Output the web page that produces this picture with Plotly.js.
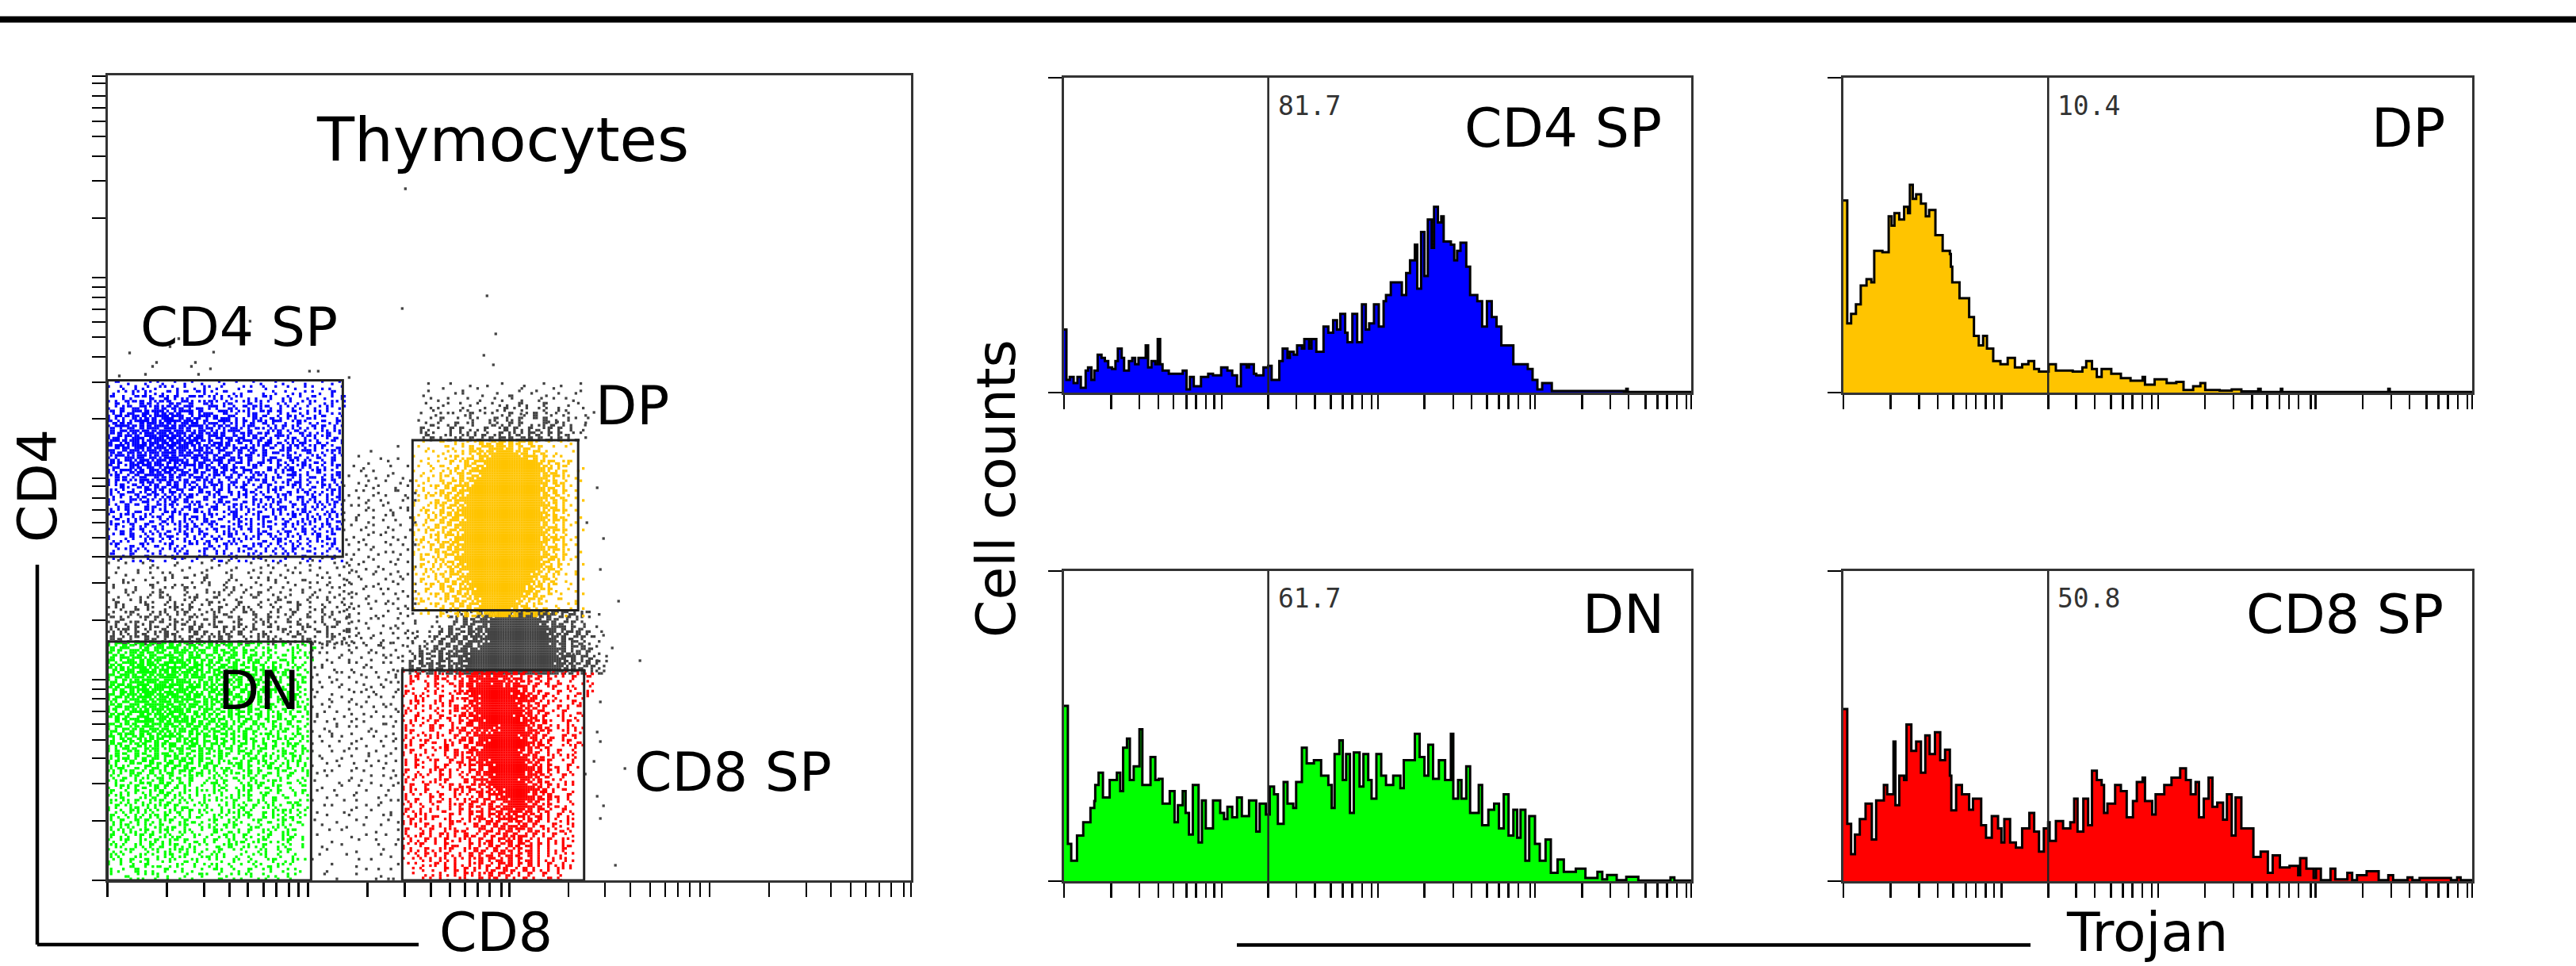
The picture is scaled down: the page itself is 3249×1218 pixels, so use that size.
<!DOCTYPE html>
<html><head><meta charset="utf-8">
<script src="https://cdn.plot.ly/plotly-3.0.1.min.js"></script>
<style>html,body{margin:0;padding:0;background:#fff}</style></head>
<body><div id="chart" style="width:3249px;height:1218px"></div>
<script>
// Event bitmaps: each hex digit is one 2x2 block of plot dots
const cd4Grid=[
"0210400820140208010400280010020400180200400208010",
"10240a0418220142080a20410082010240102040120804020",
"0412051a28043052103a0142180421080240180412040a100",
"21058213a4295a1463212a0524118042150824018210420a1",
"1a4253a5e261b4c3952a65189412a4152082418205104a201",
"42853c6b2a5d3e96b1c4a35286429a15340528142041a2041",
"25a1c73e5b7d96e3b5a9c42b5162a843a1258214a0152804",
"5a361f9b6e3fd7b5c9e37a5ce3482a561c24a15284521082",
"3c95e2b7dfa6fb3e7d5a9c6b345a1e295a3142a5148214a1",
"96b3d7a5fe7bdfa7e3b5d6a93c56a3c8245a1a24825a1052",
"a5e36f9bd7efb6fd3ea7c95e2b3ca584e2a5243c1482a415",
"5c7a3ed6bfe7dfb6e9f5a3d7c69e2a5c14b3a8426152a1c0",
"e39b6f5dbe7f6dfbe7d3a9c5e1b635a1e5849a2c51a4821a",
"3a7d5bf7e9fdb7ef5ba6d3e97a4c5e2a3c1a85b2415a1284",
"b5c3e7d9bf6edfa7e6b9d5a3c6a52e1a58c3a142b5182a15",
"6a39d5f7ae9bdf6b3e7d5a9e3ca4b52a1c42a5c182a41852",
"a5d2b6e7d9f3eb7d5a9e36b5a3c5a18e25a14b2851c24a10",
"3c52a7d3f6b9de6a3ba57c2e5a4c2a5184a16c2a158242a1",
"59a3b6e5a7dbe93d6a5c3a5e1b4a35c8215a2b4182a51284",
"2a5c169e3b7da5e3a9c56a32c5a14e2158a42b152c481a25",
"5a1362a7d5b3e96a5c3a95a42c58a13a5248a1c5248a1258",
"12a543c96a5c3e5a2c9a4b15a24e1285a14c2a15284a1524",
"a241c58a3e25ac3521a5c2e1a4825c14a25184a2c1482a15",
"24a1825c3a16c9a2e5186a2c41a25812c4a2518c2a41a285",
"5184a32c516a2e1a54c218a5c2184a152a85142a8154a2c1",
"124a52185c3a2518e2a41c528a1542a8152c4a1258a24152",
"a41258c2152a4e812a54a2182c51a2841a25182a54128a42",
"14a2158a24c1852a1c4a25182a5412a8c2412a51a82415a2",
"82145a21842c158a241a5c2182a4152a8412c18a2451a284",
"2a14258a1c2412a85a41251c82a4152a84125a28114a2582",
"1284a1258241c2a815a41258a24125a84182c41a52418a21",
"4121a58241a2c412582a1482a51248a12541a82412a5821",
"1482410a2581241a8241c2518a24112842a5148124a8215",
"2a1084251842a1482112a48251184a2581241a8124082a1",
"0412a81240812a81408a124810a8214058124a1284108124",
"2104a10841280412108a40128140a2810412a01840128040",
"0120048014080201041002840180420108041002810402080",
];
const dpGrid=[
"00100210a0412a5c3e7a5e3a5102001040",
"01040021401a5c3bdf7e5a9c3a10200100",
"00201041205a3e9bdfffd7e5a3c1040020",
"10040182a14c5a7dffffffe7b5a120100",
"0204010a12a5e3bffffffffffd7a3c2a100",
"0102421485a3c7dfffffffffffe95a21008",
"1042081a2c5e3bffffffffffffb6c5a1020",
"02041a214a5c7dffffffffffffe7a3a2040",
"2041025c3a96bfffffffffffffd7a5c1001",
"0142a1a5e37dffffffffffffffe9c3a0100",
"20148a5c3e7bffffffffffffffb6a5a1010",
"01a212a5e9dfffffffffffffffe7c3c2040",
"4108a5c3a7bfffffffffffffffd9a5a1002",
"1041a25e36dfffffffffffffffb7c5a0100",
"02a14a5c97ffffffffffffffffe6a3a1010",
"4105a2c3e7bfffffffffffffffd7a5c2004",
"10a21a5e39dfffffffffffffffb6a3a1040",
"2014a5c3a7ffffffffffffffffe9c5a0100",
"41a2145e36bfffffffffffffffd7a3a1002",
"104a25a39dffffffffffffffffb6c5c1040",
"2a1425c6e7bfffffffffffffffe7a3a0100",
"014a1a5e97ffffffffffffffffd9c5a1010",
"4102a5c3e7bfffffffffffffffb6a3a2004",
"1a2145a39dffffffffffffffffe7c5a1040",
"0214a25c6bffffffffffffffff9e3a20100",
"4a105a2c97dfffffffffffffff7c5a12002",
"10a2418a5e3bfffffffffffffb6a3c10040",
"2014a25a39dfffffffffffffe7c5a201010",
"0a1024a5c3e7ffffffffffffd9a3c104002",
"102a1a5c3a9bfffffffffffb6e5a2100100",
"40a1025a5e37dffffffffffe7c3a1402040",
"0102a1a5c3e9bfffffffffd7a5c21010002",
"2a4102a1a5c36dfffffffb6a3a140210040",
"0102a1425a5e39fffffff7c5a2100402010",
"10240a1a25c3e7bfffffe9a3c5a10200102",
"02010a1425a5c36bfff7e5a3a5120104008",
];
const dnGrid=[
"5a3c96b5e3c7a5e29c36a5c3e5a1c3a1204a1082410",
"a5e39c6e5a7d3b5e6a9c3a5c2e1a4c12a4108a24021",
"3c96a7e5bd39e6b7a5d3c69a3e5a1c5a24184a20510",
"e5a3d7b6e9f3a7d5eb3c96a5e3c2a5c1a12c4a1128",
"96c3b7e5fd9e7b3f6ad5e93c6a5e2a3c1a14a2481",
"3ea5d7bf6e9d7fb3e7d5a9e36b5c3a5e2a51c2a14",
"c59e7d3fb7e6df9b7e5d3ae96c5a3c5a1e2a51842",
"5a3e9b7dfe6bf7de93b7a5d3c6e5a2c5a3152c4a1",
"a7c5e3fd7bef9df7b6ea5d9e36a5c3e2a5a184a21",
"3e96b7df6ef7b9ed7f3a6d5e9a3c5a1e2c5a42a14",
"c5a7ed9bf7e6fd7be9d5a3e6b5c3a5a2c518a2c14",
"5e3a9d7fb6ef9b7dfe3a6d5c9a35e2a5c1a4a2518",
"a6c39e7bdfe7f6bd9e7a5d36c5a3e5a14c2a15a28",
"5e3a7d9b6fe7dbf6e3a9d5c3a6e2a5c3a5184a215",
"96c5e3b7d9f6e7bd3a5e96c3a5e3a1c5a2a41521a",
"3a5e9c7bd6ef9b7e5d3a6c9e25a3c5a1e2a54a128",
"c69a5e3b7de9f6b3d7a5e36c5a2e1a5c2a14a5218",
"5a3c6e97bd6e5b9d3e7a5c3e95a1c5a24a15c2a41",
"a3c9e5a7d3e9b6e3a5d96a3c5e2a5a14c5a218a42",
"35a6c3e9a5d7b3e96c5a3a5c1e2a5c18a2a45c1a2",
"a5c3a96e3a5e9c3a6d5a3c5e1a2c5a1a4258a4c12",
"5a2e5c3a6e59a3c5e3a6c5a2c5a14a2c5a182a1a4",
"1a5c3a5e2a5c69a5c3a5e2a5c1a3c5a1482a5c1a2",
"a25c5a1c3e5a3a5c96a5c2a5184a2c5a15a24a158",
"5a12a5c3a5c2e5a3c5a1c5a2a4c5a1a25c18a2a14",
"a2c5184a3c5a1e3a5c2a5a14c2a5a182a5c1a4281",
"15a2a5c1a5a2c5a3a1c5a24a15c2a5a184a21c12a",
"241c2a1452c5a1c2a5118a24184a2c1a1024a1082",
"1a2182a4c1a5c1a4a1081c5a1024815c2a1184241",
"42a15a1c2a5a185a20410a2c104a25a1c2a104021",
"a1824a14a2a5c18a20511a2410a2a104c1a1024a1",
"12a4108a2c1a1a24a01a204145a2a10a1842c0102",
"a2815a14a2a1c1a2418a20114a1821a24a1084c12",
"4a12a8415a2a1a1c420150241a2c1a18a2410a218",
"1824a15a2418a2c1a1a24105a8a2c1084a2a15241",
"a1424a81a25a1824a0c10a2418a2a10a4a281c241",
"24a1825a14a2a18a1c042a10a81402a1842a1284",
"81a2541a28a14c2a1024a8125a1024c108a24102",
"2415a82a14a2518a24010a5184a0a10a2418a210",
"a18242a1a18a24c10a2041825a0a1428a10a2c18",
"142a10a28a14a21a184a0a10a24c18a21482a102",
"2a810a24a1852a14a82010c2a518a04a1082410a",
"1482a1024158a2a15a0418a1020140815024a10",
"a24108a2014a258a1024c15a0041820150240810",
"41a0a1825014a208415020140a2081402a104a201",
"1020850a14c080510a0281502401024184a2010",
"a0410a58040a1805040102150280a10205082014",
"200840120150400810251020412015028040a01",
"0480a0150240102c014800a1020140201024010",
"20108020150041040a0010c40201050041020401",
];
const cd8Grid=[
"102410a0412a41e7dfbe7da5e1241a20810a048",
"0a2501a5c1a24b7fdfe7bd9c5a1e1a4120a1021",
"0a1024a4094a5e7dffbf7e9d3a1c1e0a4010828",
"20408124102a1bdfffffdfe7b5a102a10a24001",
"a14041a0182e97ffffffffbfe96a1c0a10184a2",
"10a2410a1054c6bdfffffffdf7e5a1240a01820",
"0a2510a24a102a7dfffffffe7b3c1a2010a14",
"14a01a0412a5e9bdfffffffd7e96a10a1a021",
"a20410241a21c96fffffffff7e5a3c20a1084",
"10a14a0a1c2a36bdffffffdfb6d5a102a0142",
"1a2041a1024a1e7bdfffffffe7d3a5102a120",
"a0120a5a1054c39eff7dfffffb6a5c1a0a248",
"2a1042140a1a3c97e9bdfffffe7d3a102a014",
"a0412a0510a1c96bfffffffdb7e5a1c0a1250",
"1a02a1c0a24a3a5e7dfffffffde95a102a184",
"a20a1048a510a5c3bffffffffb6e3c1020152",
"4a10a020a1a54e7dfffffffd7a5c1a0a1024",
"10a2041024a15c9bffffffffe7a5c2a01a24",
"a0a142a10a1c5a3e7dfffffffb6e3a1020a",
"20a140a4a10a2a3a7bdffffffde95a1c0a18",
"a1040a2a1a014a3e9efffffffb7e5a1a024",
"14a2410a1a0241c36bdffffffe7d3c10a12",
"a01048a2a100a5a37dfffffdfb6a5c20148",
"4a10a1024a1a4c3a3ebffffffde95a1a012",
"1a20a10402a15a3c5e9bdfffffb7e5a0218",
"a0120a4a10a2014a5a37dffffde96a5c0a1",
"24a10a0c1a01a2c5a3c3bdfffb7e3a1a024",
"1a0240140a2a1a5c3a5c9efffde96a1c042",
"a14a0a01c20a1a4c5a3c7bdf7e5a3c10a14",
"14a2a0c40a120a1c5a3e9b6de93c5a0a182",
"4a1a20102a4c1a2a3c5e3b7d6a5e1a014a2",
"12a0a14a0a1020a5c3a5e9c6e5a1c0a142a",
"a1024a10a2a4c10a3c5a3e5b3a5c2a01c24",
"248a1a0a15a0a5c1a1c3a5e9c5a1a0a1018",
"1a04a1a0a14a2a0a1c5a3e6a5c1a0a14a28",
"412a1020a1c40a1a2a5c3a5e3c5a1a01a84",
"1a04a14a2a10a2a5c1a5c96a1c5a0a04a1",
"0124a1a0a14a0a5a1c5a3c5e1a5a0a01412",
"10124a0a24a01a2a5a3c5a5a1c5a04a0158",
"012048a1a0a04a2a1c1a3e5a1a5a0a14a04",
"00124040a1a4a1a205c3a5c1a5a04a0a201",
"0010804a04a0a15a2a5a3c1a0a10a1024",
"0000120a040a240a1a25c1a0a1a04a1240",
"0000010240a04a2a0a14a2a1c140a1041",
];
const coreGrid=[
"00000000000000102451a5c3a5e7fffffffe7a3c5a21040000000",
"00000000000010215a5c3e7dffffffffd7a5c3a1a2010000000",
"000000000000100a1a5e3b7ffffffffffb7a5c3a12400000000",
"00000000000124a5c3a5e7dffffffffffffe7b5a1c10200000",
"000000001020a1a5c3a7e9bfffffffffffdf96e3a5a102000000",
"00000000102a1c3e5a5b7dfffffffffffffe7a5c3a12100000",
"000000010241a5c3a5e7b9dffffffffffffb7e5a3c140100000",
"00000010a24a5c3a5e7d6fffffffffffffffde5a3a5c2000000",
"00000024a5c3a5e97bdfffffffffffffffff7e96a5a10400000",
"0000010a25c3a5e3b7dffffffffffffffffffe7b5a3c1020000",
"000001a1a5c5e3a9e7bfffffffffffffffffbd7e96a5a120000",
"000004a5c3a5e7a5d7fffffffffffffffffff7ea5c3a1410000",
"000010a1c3e5a3e7dbfffffffffffffffffdfb6e3a5a2c10000",
];
const topGrid=[
"000100020008000400100080002000400010",
"000400100040010000000810040020000040",
"004000002010004001084000100402000100",
"000204010001080020401040081020018000",
"002000410208010018040a1400a100080200",
"000241000814082004a1204102810a040020",
"02008201108a1020104a1081a50141820004",
"04020a1001024108a1054a1021a5040a0102",
"00284104a1015002c14a1a1048a1c1a04001",
"0a14010a1a1804a102a5a14a1c2a1a105080",
"02a4108a0245a0c18a1a2c1a3c1a1a1c2010",
"001a1a0c2a4a1c1a1a3a5c3e5a1c5a1a0c01",
];
const bandGrid=[
"00400100800001020000040080100020400010000802001000",
"10020001040008100001008010000100802040010400001024",
"00100040201000042000410004100801020080100401002008",
"02080010200124000801400014002001010402010080200401",
"10040408010a0102100a100081400120a0401008400201008",
"04011000841008040101a00810040014001020400120810041",
"01080a000182010a120040081a00410081020408010402010",
"1002410081a14008104012a0810204a1080104020810010402",
"041080a01021a0082a1042180041021080a410008120a01002",
"0a14002a41081a048104a12040a10081041021a40108010240",
"12810a4051082a14a18004a1081a2401028104a00148102081",
"4102a14081a2405a18041a2841021a4081204a1081024a0104",
"21a4102a1a14a804a1184a1021a40814a1208104210a014021",
"1a182a14a1218a1c1a048a2102a4081a241021a4801240a102",
"a24c5a18a21c1a04a5a1021a1a281a4021a8410a2140a21084",
"15a24a1c1a2a5c102a5a14a2c1a5018a410281a41021a80421",
"a5c1a21a5c1a1a24a1c1a2a5a10241a2a814021a84102a1041",
"5a2c1a1a25c1a2a1c5a1a15a04a5c1a08a1a241a2818a14a02",
];
const midGrid=[
"000000000000000","000000000001000","000002000000000","000100080004000","000004000100000",
"001040000200010","000200100040001","010020800100400","000401002008020","100020410080010",
"002010040021008","010400102000240","100081020400102","020104001008040","400020100240010",
"008100402010080","102004001020008","020080100402001","100200408010020","004001020040801",
"200410008001004","010020400200102","000102008040010","201004010002001","020040100801040",
"400100040020008","008020801004001","000400100208010","100200002040100","020080410001002",
"400010020100408","012004001020040","100020800401001","020401002010802","401002000401010",
"000100804002041","200402010001008","010020004080102","402001000201040","008100420010201",
"100202004001012","240010080200401",
];
const colGrid=[
"120401002004081020","401020080100402004","020100401002018040","100402080010400102",
"004010020104002010","201080004020100080","040001102040010204","100204020001020401",
"020010400180004012","401002080004102008","010040002010240001","200800104002001020",
"004010020401008040","100200080010200104","042001004080010002","010080200400102010",
"200104001020008401","008001020100400020","100240004002010080","020010100040200104",
"401002004100001020","000200080401002004","100010200008010040","024000401002000100",
"000401008001020401","100002000400108000","042010001020000020","000100004000102041",
"200008020010400008","004000100200001020","010020000401000200","000401002000080100",
"100000200100004012","002010000401020000","040000801000100040","000100020004002010",
"200004000100000208","001000040020001000","000200100000040002","010000004001000100",
"000040000200010002","004000100000020001","000100000400002000","020000010000001040",
"100000000200100000","000010000400000002","000400000001020010","002000000100004000",
"000001000000010220","000000400000001001",
];
const grayX=[376,372,479,490,475,487,28,134,62,57,48,106,111,130,115,255,266,15,305,79,90,180,603,614,568,557,522,618,605,626,622,645,626,637,672,618,588,622,618,622,614,653,603,618,626,622,641];
const grayY=[872,721,737,689,662,650,665,666,653,648,638,648,653,645,638,642,642,636,634,673,683,705,574,590,578,578,588,495,451,431,392,352,309,293,277,277,285,225,187,175,150,141,134,106,94,78,19];
const gateCD4=[0,297,408,630.5],gateDP=[385,594,340.5,555],gateDN=[0,257,0,301],gateCD8=[372,601.5,0,265];
const cytoTicks=[0,75,122,154,177,197,213,229,241,253,328,375,408,432,451,467,482,497,507,582,628,660,685,704,720,735,748,760,835,882,913,938,957,974,989,1005,1014];
const histTicks=[0,98,157,196,228,255,275,295,313,328,425,483,522,555,580,600,620,640,653,750,810,848,880,905,925,945,970,980,1078,1137,1175,1210,1235,1255,1275,1295,1305];
const trojanGate=425;
// Histograms: [Trojan scale position, percent of panel height]
const histCD4=[[0,20],[5,4],[12,5],[20,3],[28,5],[35,1.5],[45,7],[50,8],[57,4],[63,7],[70,12],[78,11],[85,10],[92,8],[100,7.5],[107,10],[112,14],[120,11],[125,7],[135,10],[142,11],[148,9],[155,11],[170,15],[175,8],[182,10],[190,9],[195,17],[200,9],[205,7],[218,6],[230,6],[247,7],[255,1],[262,5],[270,2],[285,5],[300,6],[310,5.5],[327,8],[340,7],[350,5.5],[360,2],[368,9],[380,8],[385,9],[395,6],[400,5.5],[415,8],[425,8.5],[432,4],[440,4],[448,10],[455,14],[465,11],[470,13],[478,12],[485,15],[495,14],[500,17],[510,14],[515,17],[525,13],[540,21],[550,19],[560,23],[568,20],[575,25],[585,19],[590,16],[600,25],[610,16],[620,28],[628,20],[635,22],[645,28],[655,21],[665,29],[670,31],[680,35],[695,35],[703,31],[712,38],[720,42],[730,47],[735,33],[743,51],[750,37],[757,55],[765,46],[770,59],[778,54],[785,56],[790,48],[805,47],[812,42],[818,45],[825,47.6],[837,40],[845,31],[860,29],[870,21],[880,29],[890,24],[900,21],[910,15],[920,15],[935,9],[950,9],[965,7.5],[975,4],[985,1],[995,3],[1005,3],[1015,0.5],[1165,0.3],[1170,1.2],[1173,0.2],[1305,0]];
const histDP=[[0,61],[8,22],[16,25],[26,28],[36,34],[48,36],[58,35],[64,45],[81,44.6],[94,56],[100,53],[106,57],[116,55],[126,59],[134,57],[138,66],[144,61.5],[151,63],[161,60],[171,56],[178,58],[191,50],[206,45],[221,44],[223,40],[226,35],[241,30],[261,24],[271,18],[281,15],[290,18],[294,18],[298,14],[311,10],[326,9],[341,11],[356,8],[371,9],[384,10],[396,7.5],[406,6.7],[426,9],[441,7],[476,6.7],[496,8],[504,10],[516,7.5],[526,5],[536,7.5],[556,6],[576,4.6],[596,3.8],[621,5],[626,2.5],[646,4.2],[671,3],[691,3.4],[706,0.8],[726,2],[741,3],[751,0.8],[781,0.6],[806,1],[826,0.4],[861,1.2],[866,0.2],[908,1.2],[911,0.2],[1131,1.2],[1134,0.2],[1305,0]];
const histDN=[[0,56.5],[8,12],[15,6.6],[27,14.7],[40,19],[50,19],[55,23.6],[63,25.8],[65,31],[72,35],[81,27],[95,32.6],[110,35],[117,29],[123,43],[131,46],[137,32.6],[145,37],[157,49],[163,31],[180,40],[190,32.6],[197,33],[205,25],[220,29],[230,19],[237,24.5],[247,29],[253,22],[260,15],[268,31],[280,12.5],[287,26],[295,17],[310,26],[325,22],[333,20],[340,24],[350,20.6],[360,27],[370,21],[385,26],[400,16],[407,25],[420,21.5],[428,30.5],[437,28],[445,18.5],[457,32],[465,25],[477,23.6],[483,32],[495,43],[505,38],[520,39],[535,34],[550,31],[557,23.6],[563,41],[573,45.4],[580,32.6],[587,41],[595,22],[603,41.5],[615,30.5],[623,41],[633,32.6],[640,26.6],[650,41],[660,34],[670,31],[685,34],[700,30],[707,39],[720,39],[730,47.5],[740,40],[750,34],[758,44],[768,33],[780,39],[793,32.6],[805,47.5],[810,26.6],[820,32.6],[827,26.6],[837,37],[845,22],[863,31],[870,18],[883,23],[895,25],[905,17],[915,28],[925,14.7],[935,23],[943,14],[950,23],[960,6.6],[968,21],[980,12],[990,6.6],[1002,13.4],[1013,2.7],[1027,7],[1040,3],[1065,4],[1085,1],[1110,3],[1120,0.6],[1130,2],[1150,0.3],[1170,1.4],[1190,1.4],[1195,0.2],[1255,0.2],[1262,1.2],[1270,0.2],[1305,0]];
const histCD8=[[0,55.5],[8,18.5],[16,8.7],[24,15],[34,20],[46,25],[59,13.4],[68,26],[84,31],[91,28],[104,45],[108,24.5],[116,34],[126,32.6],[131,50.5],[141,42],[151,45],[161,35],[170,47],[179,41],[190,48],[201,39],[211,42.4],[221,34],[224,22.8],[234,31],[246,28],[261,23],[269,26.6],[286,18],[296,14],[308,21],[321,17],[328,12.5],[334,20],[346,12.5],[358,10.8],[371,17],[386,22],[396,16],[406,9.5],[416,17],[425,19],[428,13],[441,19.4],[456,17],[471,19],[479,26.6],[486,16],[498,26.6],[508,18],[516,35.6],[526,32.6],[536,31],[541,22],[548,25],[564,31],[576,29],[588,20.6],[601,25.8],[609,32],[621,33.4],[626,25.8],[641,21.5],[648,28],[666,31],[681,33.4],[699,36.4],[711,32.6],[721,28],[731,32],[738,20.6],[748,26.6],[758,33.4],[766,24],[776,25.3],[788,19.8],[796,28],[806,14.7],[814,27],[826,17],[841,17],[851,7.8],[866,9.5],[881,2.7],[891,8.3],[906,4.4],[926,4.9],[944,1.9],[948,7.4],[961,4],[976,1],[981,4],[991,0.3],[1011,4],[1021,0.6],[1046,2.7],[1056,0.3],[1066,1.9],[1086,3.2],[1111,0.3],[1131,1.9],[1141,0.3],[1171,1.2],[1181,0.3],[1196,1],[1251,1],[1261,0.3],[1274,1.2],[1281,0.3],[1305,0]];

const W=3249,H=1218,BLACK='#000',INK='#333';
const fx=p=>p/W, fy=p=>1-p/H;
const traces=[];
function addGrid(rows,x0,yTop,color){
  const s=3.1, xs=[],ys=[];
  rows.forEach((row,r)=>{[...row].forEach((c,i)=>{
    const v=parseInt(c,16);
    [[0,0,1],[1,0,2],[0,1,4],[1,1,8]].forEach(([dx,dy,bit])=>{
      if(v&bit){xs.push(x0+(2*i+dx+0.5)*s);ys.push(yTop-(2*r+dy+0.5)*s);}
    });
  });});
  traces.push({type:'scatter',mode:'markers',x:xs,y:ys,xaxis:'x',yaxis:'y',hoverinfo:'skip',showlegend:false,
    marker:{symbol:'square',size:3.3,color}});
}
const GRAY='#444';
addGrid(bandGrid,0,408,GRAY);
addGrid(midGrid,297,555,GRAY);
addGrid(colGrid,257,301,GRAY);
addGrid(topGrid,385,628,GRAY);
addGrid(coreGrid,340,340,GRAY);
traces.push({type:'scatter',mode:'markers',x:grayX,y:grayY,xaxis:'x',yaxis:'y',hoverinfo:'skip',showlegend:false,marker:{symbol:'square',size:3.3,color:GRAY}});
addGrid(cd4Grid,gateCD4[0],gateCD4[3],'#0000ff');
addGrid(dpGrid,gateDP[0],gateDP[3],'#ffc400');
addGrid(dnGrid,gateDN[0],gateDN[3],'#00ff00');
addGrid(cd8Grid,gateCD8[0],gateCD8[3],'#ff0000');

function hist(pairs,color,n){
  traces.push({type:'scatter',mode:'lines',x:pairs.map(p=>p[0]),y:pairs.map(p=>p[1]),xaxis:'x'+n,yaxis:'y'+n,
    fill:'tozeroy',fillcolor:color,line:{color:BLACK,width:3,shape:'hv'},hoverinfo:'skip',showlegend:false});
}
hist(histCD4,'#0000ff',2);hist(histDP,'#ffc400',3);hist(histDN,'#00ff00',4);hist(histCD8,'#ff0000',5);

const axis=(px0,px1,range,ticks,vertical)=>({
  domain:vertical?[fy(px1),fy(px0)]:[fx(px0),fx(px1)],range,
  tickmode:'array',tickvals:ticks,ticks:'outside',ticklen:vertical?17:18,tickwidth:2.5,tickcolor:BLACK,
  showticklabels:false,showgrid:false,zeroline:false,showline:true,linecolor:INK,linewidth:3,mirror:true,fixedrange:true});
const layout={width:W,height:H,margin:{l:0,r:0,t:0,b:0},paper_bgcolor:'#fff',plot_bgcolor:'rgba(0,0,0,0)',showlegend:false,
  font:{family:'DejaVu Sans',color:BLACK},
  xaxis:axis(135.5,1149,[0,1014],cytoTicks),
  yaxis:axis(95,1110,[0,1015],cytoTicks,true),
  shapes:[],annotations:[]};
[[2,1342,2133,98,495],[3,2325,3118,98,495],[4,1342,2133,720,1111],[5,2325,3118,720,1111]].forEach(([n,a,b,c,d])=>{
  layout['xaxis'+n]={...axis(a,b,[0,1305],histTicks),anchor:'y'+n};
  layout['yaxis'+n]={...axis(c,d,[0,100],[0,100],true),anchor:'x'+n};
  layout.shapes.push({type:'line',xref:'x'+n,yref:'y'+n,x0:trojanGate,x1:trojanGate,y0:0,y1:100,line:{color:'#222',width:2.5}});
});
[gateCD4,gateDP,gateDN,gateCD8].forEach(g=>layout.shapes.push({type:'rect',xref:'x',yref:'y',x0:g[0],x1:g[1],y0:g[2],y1:g[3],line:{color:'#222',width:3}}));
const rule=(x0,y0,x1,y1,width)=>layout.shapes.push({type:'line',xref:'paper',yref:'paper',x0:fx(x0),x1:fx(x1),y0:fy(y0),y1:fy(y1),line:{color:BLACK,width}});
rule(0,24.5,W,24.5,8);
rule(47,712,47,1191,4.5);rule(47,1191,528,1191,4.5);
rule(1560,1191.5,2561,1191.5,4.5);
const label=(text,x,y,size,opt={})=>layout.annotations.push({text,xref:'paper',yref:'paper',x:fx(x),y:fy(y),showarrow:false,xanchor:opt.anchor||'center',yanchor:'middle',textangle:opt.rot||0,font:{family:opt.family||'DejaVu Sans',size,color:opt.color||BLACK}});
label('Thymocytes',634,176,77);
label('CD4 SP',301,413,68);
label('DP',797,511,68);
label('DN',326,870,68);
label('CD8 SP',924,973,68);
label('CD4',47,613,68,{rot:-90});
label('CD8',625,1175,68);
label('Cell counts',1256,616,68,{rot:-90});
label('Trojan',2708,1175,68);
label('CD4 SP',1971,162,68);
label('DP',3037,162,68);
label('DN',2047,775,68);
label('CD8 SP',2957,775,68);
const mono={anchor:'left',family:'DejaVu Sans Mono',color:'#333'};
label('81.7',1610,134,33,mono);
label('10.4',2593,134,33,mono);
label('61.7',1610,754,33,mono);
label('50.8',2593,754,33,mono);
Plotly.newPlot('chart',traces,layout,{staticPlot:true,displayModeBar:false});
</script></body></html>
